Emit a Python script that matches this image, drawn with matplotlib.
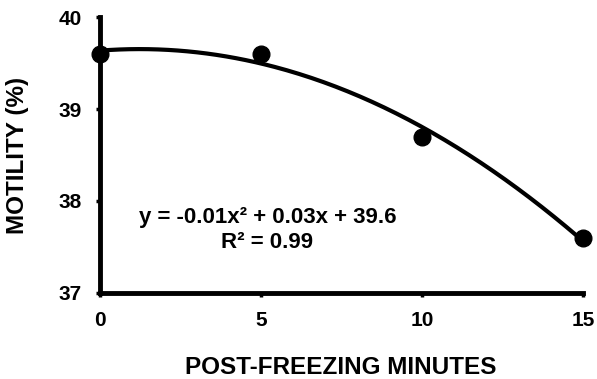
import matplotlib.pyplot as plt
import numpy as np

plt.rcParams['font.family'] = ['Liberation Sans', 'DejaVu Sans']
plt.rcParams['font.weight'] = 'bold'

# donnees
minutes = [0, 5, 10, 15]
motility = [39.6, 39.6, 38.7, 37.6]
xticks = [0, 5, 10, 15]
yticks = [37, 38, 39, 40]

fig = plt.figure(figsize=(5.97, 3.79), dpi=100)
ax = fig.add_axes([0.1675, 0.227, 0.809, 0.728])

# courbe de tendance polynomiale (ordre 2)
coef = np.polyfit(minutes, motility, 2)
xs = np.linspace(0, 15, 200)
ax.plot(xs, np.polyval(coef, xs), color='black', lw=3, clip_on=False)
ax.plot(minutes, motility, 'o', color='black', ms=12, clip_on=False, zorder=3)

ax.text(5.2, 37.82, 'y = -0.01x² + 0.03x + 39.6', ha='center', va='center',
        fontsize=16, fontweight='bold')
ax.text(5.2, 37.55, 'R² = 0.99', ha='center', va='center',
        fontsize=16, fontweight='bold')

ax.set_xlim(0, 15)
ax.set_ylim(37, 40)
ax.set_xticks(xticks)
ax.set_yticks(yticks)
ax.spines['top'].set_visible(False)
ax.spines['right'].set_visible(False)
ax.spines['left'].set_linewidth(3.5)
ax.spines['bottom'].set_linewidth(3.5)
ax.tick_params(length=3, width=2.5, pad=10, labelsize=15)
for lab in ax.get_xticklabels() + ax.get_yticklabels():
    lab.set_fontweight('bold')

fig.text(0.57, 0.03, 'POST-FREEZING MINUTES', ha='center', va='center',
         fontsize=17.5, fontweight='bold')
fig.text(0.03, 0.59, 'MOTILITY (%)', ha='center', va='center', rotation=90,
         fontsize=17.5, fontweight='bold')

fig.savefig('out.png', dpi=100)
